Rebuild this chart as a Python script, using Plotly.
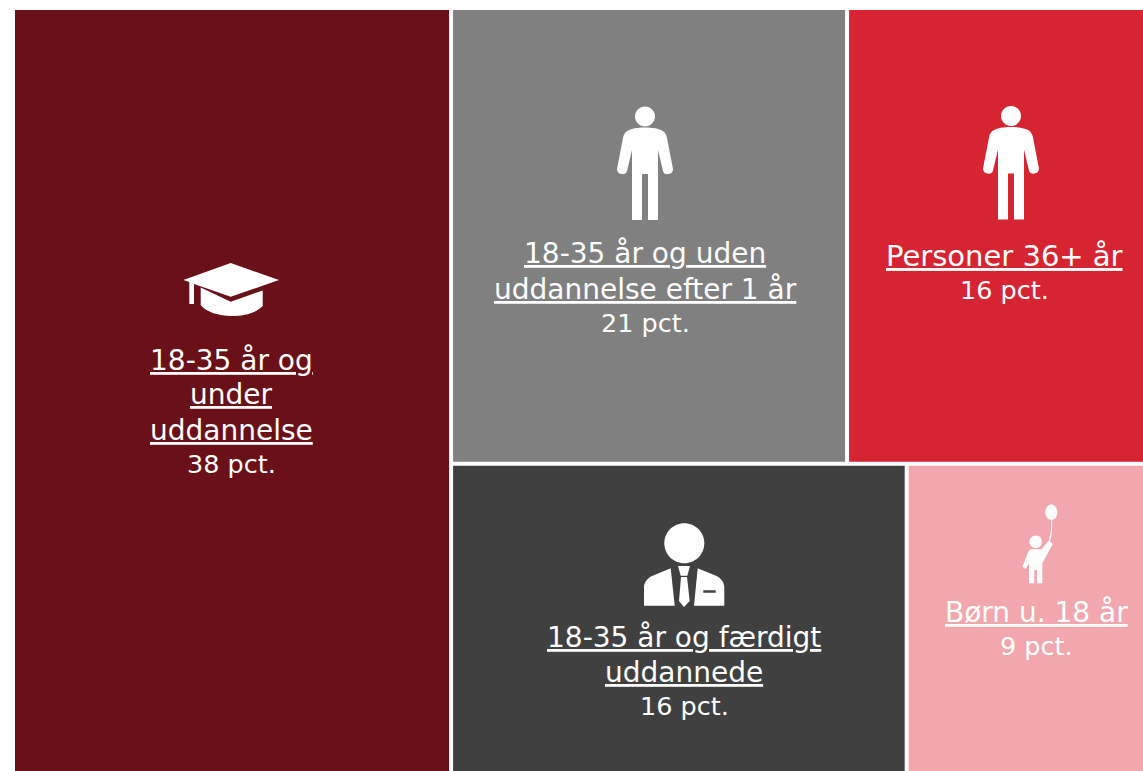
import re
import plotly.graph_objects as go

W, H = 1143, 771
categories = ["18-35 år og under uddannelse", "18-35 år og uden uddannelse efter 1 år",
              "Personer 36+ år", "18-35 år og færdigt uddannede", "Børn u. 18 år"]
values = [38, 21, 16, 16, 9]
# tile areas as measured on the picture (they differ slightly from the printed, rounded shares)
tile_areas = [38.7, 20.84, 15.68, 16.27, 8.51]
colors = ["#6a1018", "#808080", "#d72433", "#404040", "#f2a7ae"]
wrapped = [["18-35 år og", "under", "uddannelse"], ["18-35 år og uden", "uddannelse efter 1 år"],
           ["Personer 36+ år"], ["18-35 år og færdigt", "uddannede"], ["Børn u. 18 år"]]
label_x = [231, 645, 1004, 684, 1036]
label_first_y = [360, 254, 256, 637, 612]
label_sizes = [28, 28, 29, 28, 28]

LABEL_FONT = "DejaVu Sans"
PCT_FS = 25.5
PITCH = 35
K = 0.5523


def px(x):
    return x / W


def py(y):
    return 1 - y / H


def path(d):
    nums = iter(re.findall(r"[A-Z]|-?\d+\.?\d*", d))
    out, is_x = [], True
    for t in nums:
        if t.isalpha():
            out.append(t)
            is_x = True
        else:
            v = float(t)
            out.append(f"{px(v):.5f}" if is_x else f"{py(v):.5f}")
            is_x = not is_x
    return " ".join(out)


def ell(cx, cy, rx, ry=None):
    ry = ry or rx
    a, b = rx * K, ry * K
    return (f"M{cx - rx} {cy} C{cx - rx} {cy - b} {cx - a} {cy - ry} {cx} {cy - ry} "
            f"C{cx + a} {cy - ry} {cx + rx} {cy - b} {cx + rx} {cy} "
            f"C{cx + rx} {cy + b} {cx + a} {cy + ry} {cx} {cy + ry} "
            f"C{cx - a} {cy + ry} {cx - rx} {cy + b} {cx - rx} {cy} Z")


def person(c, o):
    y = lambda v: v + o
    s = f"M{c - 13} {y(220)} L{c - 13} {y(150)} L{c - 18} {y(171)} "
    s += f"C{c - 19} {y(176)} {c - 28} {y(175)} {c - 28} {y(169)} "
    s += f"L{c - 22} {y(138)} C{c - 21} {y(132)} {c - 17} {y(130)} {c - 13} {y(129)} "
    s += f"C{c - 7} {y(127)} {c + 7} {y(127)} {c + 13} {y(129)} "
    s += f"C{c + 17} {y(130)} {c + 21} {y(132)} {c + 22} {y(138)} "
    s += f"L{c + 28} {y(169)} C{c + 28} {y(175)} {c + 19} {y(176)} {c + 18} {y(171)} "
    s += f"L{c + 13} {y(150)} L{c + 13} {y(220)} L{c + 3} {y(220)} L{c + 3} {y(174)} "
    s += f"L{c - 3} {y(174)} L{c - 3} {y(220)} Z"
    return [ell(c, y(116.5), 10), s]


icons = []
# graduation cap
icons += ["M230.7 263 L279 280 L230.7 296.7 L194 284 L194 304 L189.3 304 L189.3 282 L183.3 280 Z",
          "M200.7 287.5 L230.7 301.7 L262.7 290.5 L262.7 306 C256 313 244 316 231.7 316 C219 316 206 312 200.7 305 Z"]
# standing figures
icons += person(645, 0) + person(1011, -0.5)
# figure in a suit
icons += [ell(684.3, 543.3, 20),
          "M670.7 568.3 L674.7 605.7 L644 605.7 L644 587 C644 582 648 578 652 576 Z",
          "M678 566 L690 566 L687.3 575.7 L680.7 575.7 Z",
          "M681 577 L687 577 L689.7 601 L684 607 L679 601 Z",
          "M697.7 568.3 L716.5 576 C720.5 578 724.3 582 724.3 587 L724.3 605.7 L694 605.7 Z "
          "M703.3 590.3 L703.3 592.7 L715.7 592.7 L715.7 590.3 Z"]
# child holding a balloon
icons += [ell(1051.3, 512.3, 6, 7.7), ell(1035.7, 541.7, 6.3),
          "M1049 540 L1050.3 541 C1052 533 1052.5 527 1052.2 520 L1051.2 520 C1051.5 527 1051 533 1049 540 Z",
          "M1049 540 L1052.7 544.3 L1042.3 563.3 L1042.3 583.3 L1037 583.3 L1037 570 L1034.3 570 "
          "L1034.3 583.3 L1029 583.3 L1029 563.3 L1025.7 569 L1022.3 566.7 L1028.3 551.7 "
          "C1029.5 549.5 1031 549.3 1033.3 549.3 L1041.7 549.3 Z"]

fig = go.Figure(go.Treemap(
    labels=categories,
    parents=[""] * len(categories),
    values=tile_areas,
    sort=False,
    marker=dict(colors=colors, line=dict(width=0), pad=dict(t=0, l=0, r=0, b=0)),
    tiling=dict(pad=4, packing="squarify"),
    textinfo="none",
    hoverinfo="label",
    pathbar=dict(visible=False),
    domain=dict(x=[15 / W, 1], y=[0, 1 - 10 / H]),
))

for lines, v, x, y0, fs in zip(wrapped, values, label_x, label_first_y, label_sizes):
    rows = [f"<u>{l}</u>" for l in lines] + [f"{v} pct."]
    for i, row in enumerate(rows):
        is_pct = i == len(lines)
        y = y0 + i * PITCH - (1 if is_pct else 0)
        fig.add_annotation(text=row, x=px(x), y=py(y), xref="paper", yref="paper",
                           xanchor="center", yanchor="middle", showarrow=False, align="center",
                           font=dict(family=LABEL_FONT, size=PCT_FS if is_pct else fs, color="white"))

for d in icons:
    fig.add_shape(type="path", path=path(d), xref="paper", yref="paper",
                  fillcolor="white", line=dict(width=0), layer="above")

fig.update_layout(width=W, height=H, margin=dict(l=0, r=0, t=0, b=0),
                  paper_bgcolor="white", showlegend=False)
fig.write_html("out.html", config={"displayModeBar": False},
               post_script="document.body.style.margin='0';window.dispatchEvent(new Event('resize'));")
